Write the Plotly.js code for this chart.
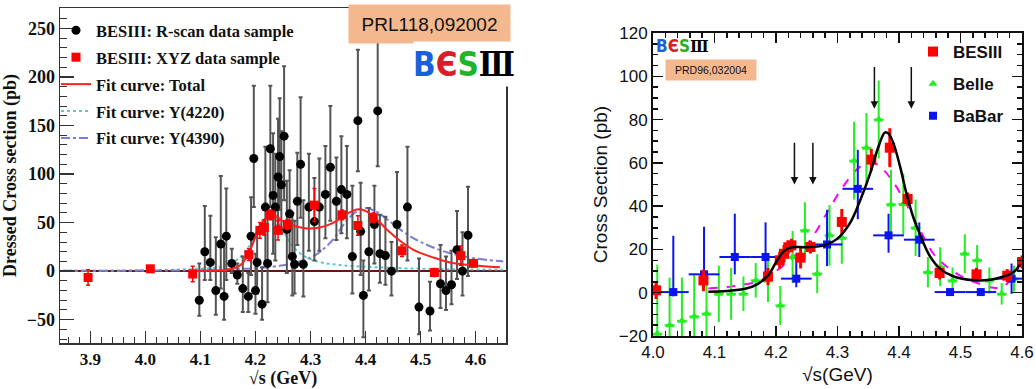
<!DOCTYPE html>
<html><head><meta charset="utf-8">
<script src="https://cdn.plot.ly/plotly-3.0.1.min.js"></script>
<style>body{margin:0;background:#fff}#chart{width:1036px;height:389px}</style>
</head><body><div id="chart"></div>
<script>
// ---------- Left panel: PRL118,092002 ----------
const rscanX = [4.098, 4.108, 4.118, 4.128, 4.137, 4.143, 4.147, 4.157, 4.167, 4.177, 4.187, 4.192, 4.197, 4.200, 4.203, 4.212, 4.218, 4.222, 4.227, 4.232, 4.236, 4.241, 4.244, 4.247, 4.252, 4.257, 4.262, 4.267, 4.271, 4.276, 4.282, 4.287, 4.297, 4.307, 4.316, 4.327, 4.336, 4.347, 4.356, 4.366, 4.376, 4.386, 4.391, 4.396, 4.406, 4.416, 4.422, 4.426, 4.436, 4.447, 4.457, 4.476, 4.497, 4.517, 4.536, 4.546, 4.556, 4.566, 4.576, 4.586];
const rscanY = [-30, 20, 9, -20, 28, -26, 36, 8, -4, -18, -26, 36, 116, -20, 9, -34, 66, 8, 126, 78, 66, 97, 118, 89, 139, 43, 59, 15, 7, 72, 110, 7, 66, 51, 66, 79, 107, 72, 84, 79, 15, 155, 41, -25, 20, 48, 165, 18, 16, 0, 48, 66, -37, -41, -13, -20, -14, 22, 0, 37];
const rscanErrUp = [38, 47, 48, 55, 70, 54, 49, 15, 12, 33, 24, 40, 75, 38, 30, 38, 62, 52, 65, 64, 55, 60, 60, 55, 72, 50, 45, 45, 45, 50, 69, 66, 55, 45, 50, 50, 63, 45, 55, 50, 73, 73, 50, 36, 45, 40, 80, 40, 40, 30, 54, 62, 50, 30, 40, 35, 35, 40, 40, 50];
const rscanErrDn = [16, 29, 18, 25, 46, 24, 45, 10, 9, 24, 16, 40, 50, 24, 32, 16, 58, 40, 60, 60, 55, 50, 55, 50, 66, 45, 45, 40, 30, 45, 55, 33, 45, 40, 45, 45, 55, 40, 45, 45, 38, 52, 45, 43, 40, 40, 57, 30, 30, 25, 48, 55, 28, 20, 25, 20, 20, 30, 25, 42];

const xyzX = [3.896, 4.009, 4.086, 4.188, 4.208, 4.216, 4.227, 4.241, 4.258, 4.307, 4.357, 4.386, 4.414, 4.466, 4.525, 4.573, 4.596];
const xyzY = [-6.5, 2.4, -3, 17, 42, 45, 58, 42, 48, 68, 58, 47, 55, 21, -1.4, 16, 8];
const xyzErr = [8, 3, 8, 6, 8, 8, 5, 10, 5, 17, 5, 10, 5, 6, 4, 10, 3];

const totalX = [4.08, 4.1, 4.13, 4.154, 4.172, 4.184, 4.193, 4.202, 4.215, 4.227, 4.239, 4.251, 4.269, 4.293, 4.317, 4.342, 4.366, 4.384, 4.396, 4.411, 4.426, 4.444, 4.463, 4.487, 4.523, 4.553, 4.584, 4.614, 4.644];
const totalY = [0, 0.3, 0.7, 2, 6, 14, 25, 38, 52, 58, 56, 51, 47, 44, 45, 50, 59, 63.5, 63, 58, 50, 40, 31, 22, 14, 9, 6.5, 5, 4];

const y4220X = [3.85, 4.0, 4.1, 4.13, 4.15, 4.17, 4.18, 4.19, 4.2, 4.21, 4.22, 4.23, 4.24, 4.25, 4.26, 4.27, 4.29, 4.32, 4.36, 4.42, 4.5, 4.65];
const y4220Y = [0.3, 0.8, 2.5, 4, 7, 13, 19, 27, 38, 50, 57, 58, 52, 42, 32, 24, 15, 9, 6, 4, 2.5, 1.5];

const y4390X = [3.85, 4.0, 4.1, 4.15, 4.2, 4.25, 4.28, 4.31, 4.34, 4.36, 4.38, 4.4, 4.42, 4.44, 4.47, 4.5, 4.55, 4.6, 4.65];
const y4390Y = [0.3, 0.6, 1, 2, 3, 6, 10, 17, 32, 48, 60, 65, 61, 53, 40, 30, 19, 13, 10];

// ---------- Right panel: PRD96,032004 ----------
const besX = [4.005, 4.082, 4.187, 4.206, 4.213, 4.220, 4.225, 4.240, 4.256, 4.307, 4.355, 4.385, 4.414, 4.466, 4.526, 4.576, 4.600];
const besY = [1.1, 5.7, 7.5, 15, 18, 21, 21.9, 16.2, 21.1, 32.7, 61.5, 67, 43.3, 9.1, 8.5, 7.9, 14.2];
const besErr = [4, 5, 4, 4, 4, 3, 3, 5, 3, 6, 5, 9, 3, 3, 3, 3, 3];

const belleX = [4.007, 4.027, 4.047, 4.067, 4.087, 4.107, 4.127, 4.147, 4.167, 4.187, 4.207, 4.227, 4.247, 4.267, 4.287, 4.307, 4.327, 4.347, 4.367, 4.387, 4.407, 4.427, 4.447, 4.467, 4.487, 4.507, 4.527, 4.547, 4.567, 4.587];
const belleY = [-19, -15, -13, -11, -9.7, -0.5, -0.5, -0.5, 5.7, 5.7, -5.9, 16.5, 28.8, 8.8, 26.5, 25.4, 61, 67, 80, 40.8, 41, 30, 9.5, 12, 5.7, 18, 15, 5.7, -0.5, 6.5];
const belleErr = [32, 22, 20, 20, 20, 13, 12, 8, 8, 10, 9, 12, 13, 9, 14, 12, 18, 16, 18, 16, 14, 13, 7, 9, 6, 9, 7, 6, 5, 6];
const belleXErr = 0.008;

const babarX = [4.033, 4.083, 4.133, 4.183, 4.233, 4.283, 4.333, 4.383, 4.433, 4.483, 4.533, 4.583];
const babarY = [0.3, 8.5, 16.5, 16.5, 6.5, 22.3, 48, 26.5, 24.5, 0.3, 0.3, 6.5];
const babarErrUp = [26, 22, 20, 16, 10, 16, 18, 10, 8, 1, 1, 7];
const babarErrDn = [2, 6, 8, 8, 4, 10, 14, 8, 8, 1, 1, 7];
const babarXErr = 0.025;

const fitX = [4.09, 4.12, 4.15, 4.17, 4.187, 4.2, 4.212, 4.225, 4.25, 4.28, 4.3, 4.32, 4.336, 4.353, 4.366, 4.377, 4.383, 4.391, 4.402, 4.412, 4.423, 4.434, 4.45, 4.467, 4.489, 4.521, 4.548, 4.57, 4.586, 4.597];
const fitY = [0.5, 0.8, 1.8, 4, 8, 14, 19, 21, 21, 22, 25, 32, 42, 55, 67, 74, 73.5, 69, 58, 46, 35, 27, 17, 11, 7.5, 5.8, 6, 7.5, 9.5, 13];

const altX = [4.09, 4.13, 4.173, 4.2, 4.228, 4.255, 4.282, 4.309, 4.336, 4.358, 4.374, 4.391, 4.412, 4.434, 4.456, 4.478, 4.505, 4.532, 4.554, 4.567, 4.581, 4.595];
const altY = [2, 3, 5.5, 10, 16.5, 24, 36.5, 49, 58, 60, 57, 51, 41, 29, 18, 12, 7, 4, 2.3, 2.6, 5.7, 11];

const arrowX = [4.23, 4.26, 4.36, 4.42];
const arrowTip = [50, 50, 85, 85];
const arrowTail = [70, 70, 105, 105];

// ---------- build ----------
const W = 1036, H = 389;
const SERIF = 'Liberation Serif, Times New Roman, serif';
const SANS = 'Liberation Sans, Arial, sans-serif';
const sfont = (size) => ({family: SERIF, size: size, color: '#111', weight: 'bold'});
const afont = (size, w) => ({family: SANS, size: size, color: '#111', weight: w || 'normal'});
const LOGO = () => '<span style="color:#1a60d8">B</span><span style="color:#d81e2c">Є</span><span style="color:#1fb52a">S</span>' +
  '<span style="color:#000;font-family:DejaVu Serif Condensed,DejaVu Serif,serif">Ⅲ</span>';

const traces = [
  {x: y4220X, y: y4220Y, mode: 'lines', line: {color: '#5cc8cc', width: 2, dash: 'dot', shape: 'spline'},
   name: 'Fit curve: Y(4220)', legendrank: 4, legendgroup: 'a4', xaxis: 'x', yaxis: 'y'},
  {x: y4390X, y: y4390Y, mode: 'lines', line: {color: '#7b7bd8', width: 2, dash: 'dashdot', shape: 'spline'},
   name: 'Fit curve: Y(4390)', legendrank: 5, legendgroup: 'a5', xaxis: 'x', yaxis: 'y'},
  {x: rscanX, y: rscanY, mode: 'markers', marker: {color: '#000', size: 9, symbol: 'circle'},
   error_y: {type: 'data', symmetric: false, array: rscanErrUp, arrayminus: rscanErrDn, color: '#555', thickness: 2, width: 2},
   name: 'BESIII: R-scan data sample', legendrank: 1, legendgroup: 'a1', xaxis: 'x', yaxis: 'y'},
  {x: totalX, y: totalY, mode: 'lines', line: {color: '#ff2020', width: 2, shape: 'spline'},
   name: 'Fit curve: Total', legendrank: 3, legendgroup: 'a3', xaxis: 'x', yaxis: 'y'},
  {x: xyzX, y: xyzY, mode: 'markers', marker: {color: '#ff0000', size: 9, symbol: 'square'},
   error_y: {type: 'data', array: xyzErr, color: '#ff0000', thickness: 1.5, width: 2},
   name: 'BESIII: XYZ data sample', legendrank: 2, legendgroup: 'a2', xaxis: 'x', yaxis: 'y'},

  {x: altX, y: altY, mode: 'lines', line: {color: '#ff00ff', width: 2, dash: 'dash', shape: 'spline'},
   showlegend: false, xaxis: 'x2', yaxis: 'y2'},
  {x: belleX, y: belleY, mode: 'markers', marker: {color: '#22ee22', size: 8, symbol: 'triangle-up'},
   error_y: {type: 'data', array: belleErr, color: '#22ee22', thickness: 2, width: 0},
   error_x: {type: 'constant', value: belleXErr, color: '#22ee22', thickness: 2, width: 0},
   name: 'Belle', legend: 'legend2', legendrank: 2, legendgroup: 'b2', xaxis: 'x2', yaxis: 'y2'},
  {x: babarX, y: babarY, mode: 'markers', marker: {color: '#0a14f0', size: 8, symbol: 'square'},
   error_y: {type: 'data', symmetric: false, array: babarErrUp, arrayminus: babarErrDn, color: '#0a14f0', thickness: 2, width: 0},
   error_x: {type: 'constant', value: babarXErr, color: '#0a14f0', thickness: 2, width: 0},
   name: 'BaBar', legend: 'legend2', legendrank: 3, legendgroup: 'b3', xaxis: 'x2', yaxis: 'y2'},
  {x: besX, y: besY, mode: 'markers', marker: {color: '#ff0000', size: 10, symbol: 'square'},
   error_y: {type: 'data', array: besErr, color: '#ff0000', thickness: 3, width: 0},
   name: 'BESIII', legend: 'legend2', legendrank: 1, legendgroup: 'b1', xaxis: 'x2', yaxis: 'y2'},
  {x: fitX, y: fitY, mode: 'lines', line: {color: '#000', width: 2.5, shape: 'spline'},
   showlegend: false, xaxis: 'x2', yaxis: 'y2'}
];

const annotations = [
  {xref: 'paper', yref: 'paper', x: 429.5 / W, y: (H - 24) / H, xanchor: 'center', yanchor: 'middle',
   text: 'PRL118,092002', showarrow: false, font: afont(19), bgcolor: '#f4b88e', width: 155, height: 32, borderpad: 3},
  {xref: 'paper', yref: 'paper', x: 464 / W, y: (H - 64) / H, xanchor: 'center', yanchor: 'middle',
   text: LOGO(), showarrow: false,
   font: {family: 'DejaVu Sans Condensed, DejaVu Sans, sans-serif', size: 33, weight: 'bold'},
   bgcolor: '#fff', width: 100, height: 44, borderpad: 0},
  {xref: 'paper', yref: 'paper', x: 710.5 / W, y: (H - 70) / H, xanchor: 'center', yanchor: 'middle',
   text: 'PRD96,032004', showarrow: false, font: afont(10.5), bgcolor: '#f4b88e', width: 86, height: 16, borderpad: 2},
  {xref: 'paper', yref: 'paper', x: 682 / W, y: (H - 46) / H, xanchor: 'center', yanchor: 'middle',
   text: LOGO(), showarrow: false,
   font: {family: 'DejaVu Sans Condensed, DejaVu Sans, sans-serif', size: 17, weight: 'bold'}}
];
arrowX.forEach((ax, i) => annotations.push({
  xref: 'x2', yref: 'y2', axref: 'x2', ayref: 'y2', x: ax, y: arrowTip[i], ax: ax, ay: arrowTail[i],
  showarrow: true, arrowhead: 2, arrowsize: 1, arrowwidth: 1.5, arrowcolor: '#111', text: ''
}));

const layout = {
  width: W, height: H, margin: {l: 0, r: 0, t: 0, b: 0},
  paper_bgcolor: '#fff', plot_bgcolor: 'rgba(0,0,0,0)',
  xaxis: {domain: [60 / W, 506 / W], anchor: 'y', range: [3.845, 4.655], tick0: 3.9, dtick: 0.1, tickformat: '.1f',
    ticks: 'inside', ticklen: 12, tickwidth: 1.5, tickcolor: '#333', showline: true, linecolor: '#333', linewidth: 1.5,
    mirror: true, showgrid: false, zeroline: false, tickfont: sfont(17),
    minor: {ticks: 'inside', ticklen: 6, dtick: 0.02, tick0: 3.9, tickcolor: '#333', tickwidth: 1, showgrid: false},
    title: {text: '√s (GeV)', font: sfont(18), standoff: 6}},
  yaxis: {domain: [(H - 343) / H, (H - 8) / H], anchor: 'x', range: [-74, 271], tick0: 0, dtick: 50,
    ticks: 'inside', ticklen: 14, tickwidth: 1.5, tickcolor: '#333', showline: true, linecolor: '#333', linewidth: 1.5,
    mirror: true, showgrid: false, zeroline: true, zerolinecolor: '#6b1414', zerolinewidth: 1.5, tickfont: sfont(18),
    minor: {ticks: 'inside', ticklen: 7, dtick: 10, tick0: 0, tickcolor: '#333', tickwidth: 1, showgrid: false},
    title: {text: 'Dressed Cross section (pb)', font: sfont(18), standoff: 6}},
  xaxis2: {domain: [653 / W, 1022 / W], anchor: 'y2', range: [4.0, 4.6], tick0: 4.0, dtick: 0.1, tickformat: '.1f',
    ticks: 'inside', ticklen: 10, tickwidth: 1.5, tickcolor: '#111', showline: true, linecolor: '#111', linewidth: 2,
    mirror: 'allticks', showgrid: false, zeroline: false, tickfont: afont(17),
    minor: {ticks: 'inside', ticklen: 5, dtick: 0.02, tick0: 4.0, tickcolor: '#111', tickwidth: 1.5, showgrid: false},
    title: {text: '√s(GeV)', font: afont(19), standoff: 6}},
  yaxis2: {domain: [(H - 336) / H, (H - 33) / H], anchor: 'x2', range: [-20, 120], tick0: 0, dtick: 20,
    ticks: 'inside', ticklen: 10, tickwidth: 1.5, tickcolor: '#111', showline: true, linecolor: '#111', linewidth: 2,
    mirror: 'allticks', showgrid: false, zeroline: false, tickfont: afont(17),
    minor: {ticks: 'inside', ticklen: 5, dtick: 5, tick0: 0, tickcolor: '#111', tickwidth: 1.5, showgrid: false},
    title: {text: 'Cross Section (pb)', font: afont(19), standoff: 6}},
  legend: {x: 56 / W, y: (H - 13) / H, xanchor: 'left', yanchor: 'top', bgcolor: 'rgba(0,0,0,0)',
    font: sfont(16.5), tracegroupgap: 2.5, itemwidth: 30, traceorder: 'grouped'},
  legend2: {x: 913 / W, y: (H - 34) / H, xanchor: 'left', yanchor: 'top', bgcolor: 'rgba(0,0,0,0)',
    font: afont(17, 'bold'), tracegroupgap: 7, itemwidth: 30, traceorder: 'grouped'},
  annotations: annotations,
  showlegend: true
};

Plotly.newPlot('chart', traces, layout, {displayModeBar: false, staticPlot: true});
</script></body></html>
